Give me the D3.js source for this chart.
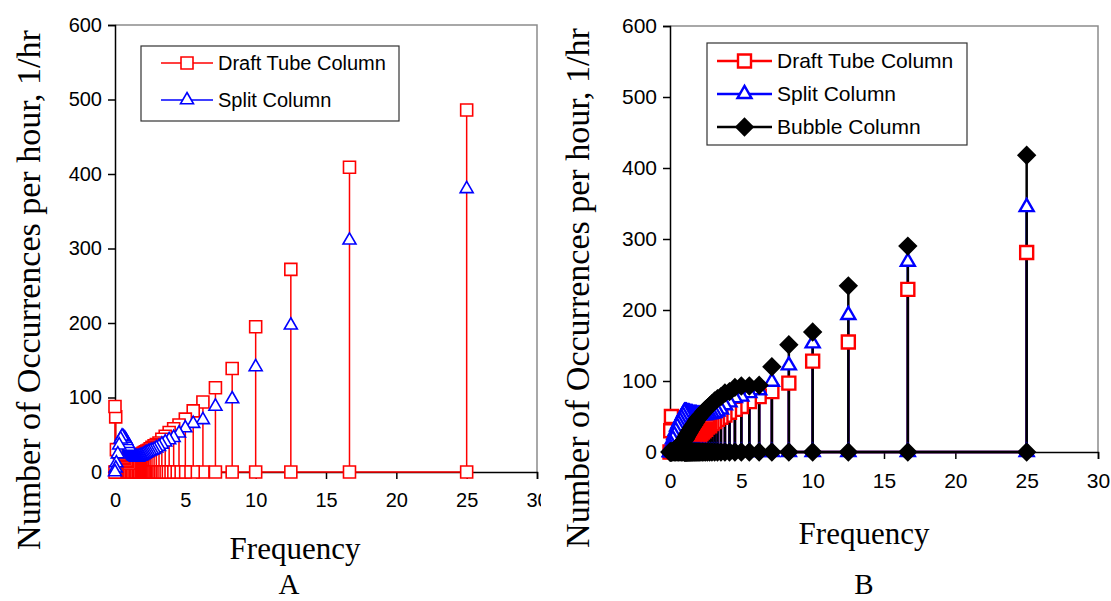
<!DOCTYPE html>
<html>
<head>
<meta charset="utf-8">
<script src="https://cdn.jsdelivr.net/npm/d3@7"></script>
<style>
  body { margin: 0; background: #fff; }
  svg { display: block; }
</style>
</head>
<body>
<div id="container"></div>
<script>
// frequencies of the harmonics, same for every series
const FREQ = [25, 16.67, 12.5, 10, 8.33, 7.14, 6.25, 5.56, 5, 4.55, 4.17, 3.85, 3.57, 3.33, 3.13,
  2.94, 2.78, 2.63, 2.5, 2.38, 2.27, 2.17, 2.08, 2, 1.92, 1.85, 1.79, 1.72, 1.67, 1.61,
  1.56, 1.52, 1.47, 1.43, 1.39, 1.35, 1.32, 1.28, 1.25, 1.22, 1.19, 1.16, 1.14, 1.11, 1.09,
  1.06, 1.04, 1.02, 1, 0.9, 0.8, 0.7, 0.6, 0.5, 0.4, 0.3, 0.2, 0.1, 0.05, 0];

// panel A
const draftA = [486, 409, 272, 195, 139, 113, 94, 82, 71, 63, 58, 53, 48, 44, 39,
  37, 35, 33, 31, 29, 28, 27, 26, 25, 24, 23, 22, 21, 20, 19,
  19, 18, 18, 17, 17, 16, 16, 15, 15, 15, 14, 14, 14, 13, 13,
  13, 13, 12, 12, 14, 16, 18, 20, 22, 24, 26, 28, 30, 74, 88];
const splitA = [380, 311, 197, 141, 98, 88, 70, 65, 59, 52, 46, 43, 40, 37, 34,
  32, 30, 29, 28, 27, 26, 25, 24, 23, 22, 22, 21, 21, 20, 20,
  20, 20, 20, 21, 21, 22, 22, 23, 24, 25, 26, 27, 28, 29, 30,
  31, 32, 33, 34, 38, 42, 45, 47, 48, 44, 36, 24, 12, 5, 0];

// panel B
const draftB = [281, 229, 155, 128, 97, 85, 78, 71, 64, 60, 56, 52, 49, 46, 43,
  40, 37, 35, 32, 30, 28, 26, 24, 22, 20, 18, 17, 15, 14, 13,
  12, 11, 10, 9, 8, 7, 6, 5, 5, 4, 4, 3, 3, 3, 2,
  2, 2, 2, 2, 2, 2, 2, 3, 5, 10, 20, 40, 50, 30, 0];
const splitB = [345, 268, 193, 153, 122, 99, 87, 83, 78, 76, 70, 66, 60, 57, 55,
  54, 53, 53, 52, 52, 52, 52, 52, 52, 52, 53, 53, 53, 53, 53,
  54, 54, 54, 54, 54, 55, 55, 55, 55, 55, 55, 56, 56, 56, 56,
  56, 56, 56, 56, 52, 48, 44, 40, 36, 30, 24, 18, 10, 5, 0];
const bubbleB = [418, 290, 234, 169, 151, 120, 94, 93, 93, 91, 85, 83, 78, 75, 72,
  68, 65, 62, 60, 57, 54, 52, 50, 48, 46, 44, 42, 40, 38, 37,
  35, 34, 32, 31, 30, 28, 27, 26, 25, 24, 23, 22, 21, 20, 19,
  18, 18, 17, 16, 14, 12, 10, 8, 6, 4, 2, 1, 0, 0, 0];

const xTicks = [0, 5, 10, 15, 20, 25, 30];
const yTicks = [0, 100, 200, 300, 400, 500, 600];

const svgW = 1111, svgH = 601;
const svg = d3.select("#container").append("svg")
  .attr("width", svgW).attr("height", svgH);

const sansFont = "'Liberation Sans', Arial, sans-serif";
const serifFont = "'Liberation Serif', 'Times New Roman', serif";

function markerPath(type, size) {
  if (type === "square") return d3.symbol(d3.symbolSquare, size * size)();
  if (type === "diamond") return d3.symbol(d3.symbolSquare, size * size / 2)();
  // triangle, width = size
  const h = size * Math.sqrt(3) / 2;
  return `M0,${-h * 2 / 3}L${size / 2},${h / 3}L${-size / 2},${h / 3}Z`;
}

function drawPanel(cfg) {
  const g = svg.append("g");
  if (cfg.clipW) {
    const id = "clip" + cfg.id;
    svg.append("clipPath").attr("id", id)
      .append("rect").attr("x", cfg.clipX).attr("y", 0).attr("width", cfg.clipW).attr("height", svgH);
    g.attr("clip-path", `url(#${id})`);
  }
  const x = d3.scaleLinear().domain([0, 30]).range([cfg.left, cfg.right]);
  const y = d3.scaleLinear().domain([0, 600]).range([cfg.bottom, cfg.top]);

  // plot area border (grey top + right)
  g.append("path")
    .attr("d", `M${cfg.left},${cfg.top}H${cfg.right}V${cfg.bottom}`)
    .attr("fill", "none").attr("stroke", "#8c8c8c").attr("stroke-width", 1.5);

  // axes
  const yAxis = g.append("g").attr("transform", `translate(${cfg.left},0)`)
    .call(d3.axisLeft(y).tickValues(yTicks).tickSize(7).tickPadding(6));
  const xAxis = g.append("g").attr("transform", `translate(0,${cfg.bottom})`)
    .call(d3.axisBottom(x).tickValues(xTicks).tickSize(7).tickPadding(cfg.xPad));
  [yAxis, xAxis].forEach(a => {
    a.select(".domain").attr("stroke", "#000").attr("stroke-width", 1.5);
    a.selectAll(".tick line").attr("stroke", "#000").attr("stroke-width", 1.5);
    a.selectAll("text").attr("font-family", sansFont).attr("font-size", cfg.tickFont).attr("fill", "#000");
  });

  const line = d3.line().x(d => x(d[0])).y(d => y(d[1]));
  const byName = {};
  cfg.series.forEach(s => byName[s.name] = s);

  // stems of every series
  cfg.lineOrder.forEach(name => {
    const s = byName[name];
    const pts = FREQ.map((f, i) => [f, s.values[i]]).sort((a, b) => a[0] - b[0])
      .flatMap(p => [[p[0], 0], p, [p[0], 0]]);
    g.append("path").attr("d", line(pts))
      .attr("fill", "none").attr("stroke", s.color).attr("stroke-width", cfg.lineW)
      .attr("stroke-linejoin", "miter");
  });

  // markers
  cfg.markerOrder.forEach(name => {
    const s = byName[name];
    let pts = FREQ.map((f, i) => [f, s.values[i]]);
    if (s.zeroMarks) pts = FREQ.map(f => [f, 0]).concat(pts);
    g.append("g").selectAll("path").data(pts).join("path")
      .attr("d", markerPath(s.marker, s.size))
      .attr("transform", d => `translate(${x(d[0])},${y(d[1])})` + (s.marker === "diamond" ? " rotate(45)" : ""))
      .attr("fill", s.marker === "diamond" ? s.color : "#fff")
      .attr("stroke", s.color).attr("stroke-width", cfg.markW);
  });

  // legend
  const lg = g.append("g");
  lg.append("rect").attr("x", cfg.legend.x).attr("y", cfg.legend.y)
    .attr("width", cfg.legend.w).attr("height", cfg.legend.h)
    .attr("fill", "#fff").attr("stroke", "#333").attr("stroke-width", 1.2);
  cfg.series.forEach((s, i) => {
    const ly = cfg.legend.y + cfg.legend.first + i * cfg.legend.step;
    lg.append("line").attr("x1", cfg.legend.l1).attr("x2", cfg.legend.l2)
      .attr("y1", ly).attr("y2", ly).attr("stroke", s.color).attr("stroke-width", cfg.lineW);
    lg.append("path").attr("d", markerPath(s.marker, s.size))
      .attr("transform", `translate(${(cfg.legend.l1 + cfg.legend.l2) / 2},${ly})` + (s.marker === "diamond" ? " rotate(45)" : ""))
      .attr("fill", s.marker === "diamond" ? s.color : "#fff")
      .attr("stroke", s.color).attr("stroke-width", cfg.markW);
    lg.append("text").attr("x", cfg.legend.l2 + 5).attr("y", ly)
      .attr("dy", "0.35em").attr("font-family", sansFont).attr("font-size", cfg.legend.font)
      .text(s.label);
  });

  // titles
  svg.append("text")
    .attr("transform", `translate(${cfg.yTitleX},${cfg.yTitleY}) rotate(-90)`)
    .attr("text-anchor", "middle").attr("font-family", serifFont).attr("font-size", 34)
    .text("Number of Occurrences per hour, 1/hr");
  svg.append("text").attr("x", cfg.xTitleX).attr("y", cfg.xTitleY)
    .attr("text-anchor", "middle").attr("font-family", serifFont).attr("font-size", 31)
    .text("Frequency");
  svg.append("text").attr("x", cfg.panelX).attr("y", 594)
    .attr("text-anchor", "middle").attr("font-family", serifFont).attr("font-size", 29)
    .text(cfg.id);
}

drawPanel({
  id: "A", left: 115, right: 537, top: 25, bottom: 472,
  clipX: 0, clipW: 541, xPad: 14, tickFont: 20, lineW: 1.5, markW: 1.6,
  series: [
    { name: "draft", label: "Draft Tube Column", values: draftA, color: "#ff0000", marker: "square", size: 12, zeroMarks: true },
    { name: "split", label: "Split Column", values: splitA, color: "#0000ff", marker: "triangle", size: 13, zeroMarks: false }
  ],
  lineOrder: ["draft"], markerOrder: ["draft", "split"],
  legend: { x: 141, y: 46, w: 258, h: 75, first: 17, step: 37, l1: 161, l2: 213, font: 20 },
  yTitleX: 40, yTitleY: 290, xTitleX: 295, xTitleY: 559, panelX: 289
});

drawPanel({
  id: "B", left: 670, right: 1098, top: 26, bottom: 452,
  xPad: 14, tickFont: 21, lineW: 2.5, markW: 2.4,
  series: [
    { name: "draft", label: "Draft Tube Column", values: draftB, color: "#ff0000", marker: "square", size: 13, zeroMarks: false },
    { name: "split", label: "Split Column", values: splitB, color: "#0000ff", marker: "triangle", size: 14, zeroMarks: true },
    { name: "bubble", label: "Bubble Column", values: bubbleB, color: "#000000", marker: "diamond", size: 16, zeroMarks: true }
  ],
  lineOrder: ["draft", "split", "bubble"], markerOrder: ["draft", "split", "bubble"],
  legend: { x: 707, y: 43, w: 260, h: 102, first: 18, step: 33, l1: 717, l2: 772, font: 21 },
  yTitleX: 589, yTitleY: 288, xTitleX: 864, xTitleY: 544, panelX: 864
});
</script>
</body>
</html>
